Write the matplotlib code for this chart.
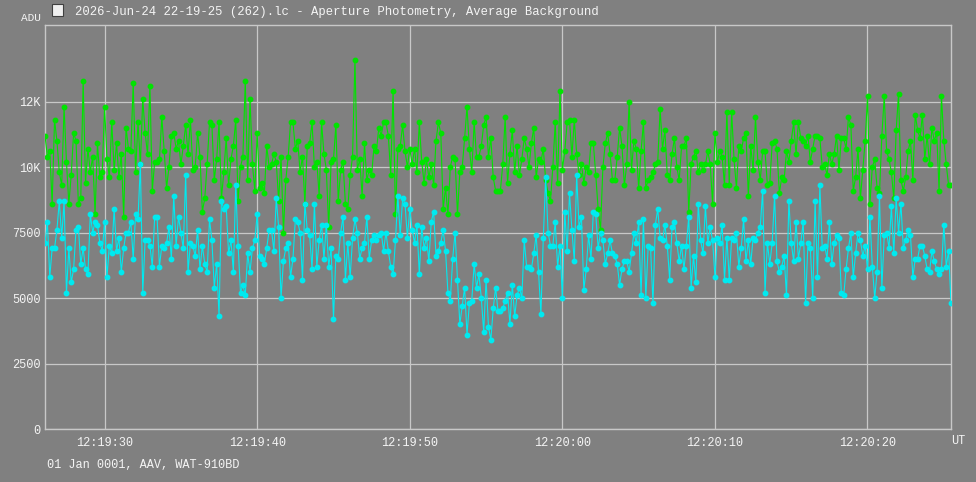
import numpy as np
import matplotlib
matplotlib.use('Agg')
import matplotlib.pyplot as plt
from matplotlib.ticker import FuncFormatter, FixedLocator
from matplotlib.patches import Rectangle

plt.rcParams['font.family'] = ['Liberation Mono', 'DejaVu Sans Mono']

# ADU values, one per frame
green = [
    11200, 10400, 10600, 8600, 11800, 11000, 9800, 9300, 12300, 10200, 8600, 9700, 11300, 11000, 8600, 8800,
    13300, 9400, 10700, 9800, 10400, 8200, 10900, 9600, 9800, 12300, 10300, 9600, 11700, 9900, 10900, 9600,
    10500, 8100, 11500, 10700, 10600, 13200, 9800, 11700, 10100, 12600, 11300, 10500, 13100, 9100, 10200,
    10200, 10300, 11900, 10600, 9200, 10000, 11200, 11300, 10700, 11000, 10100, 10800, 11600, 10500, 11800, 9900,
    10000, 11300, 10400, 8300, 8800, 10100, 11700, 11600, 9500, 10300, 11700, 8800, 9800, 11100, 9300, 10300,
    10800, 11800, 8700, 10000, 10400, 13300, 9500, 12600, 10100, 9100, 11300, 9200, 9400, 9000, 10800, 10000,
    10100, 10500, 10200, 8700, 10400, 7500, 9500, 10400, 11700, 11700, 10700, 11000, 9800, 10400, 8600, 10800,
    10900, 11700, 10000, 10200, 8900, 11700, 10500, 9900, 7700, 10200, 10300, 11600, 8700, 9900, 10200, 8600,
    8400, 9700, 10400, 14100, 9900, 10300, 8900, 10900, 9500, 9900, 9700, 10800, 10600, 11500, 11200, 11700,
    11700, 11200, 9700, 12900, 8200, 10700, 10800, 11600, 10600, 10000, 10700, 10100, 10700, 9800, 11700, 10200,
    9400, 10300, 9600, 10100, 9300, 11000, 11700, 11300, 8400, 9200, 8200, 10000, 10400, 10300, 8200, 9800,
    10000, 11100, 12300, 10700, 9800, 11700, 10400, 10400, 10800, 11600, 11900, 10400, 11100, 9600, 9100, 9100,
    9100, 10100, 11900, 9400, 10500, 11400, 9800, 10800, 9700, 10300, 11100, 10700, 10000, 10900, 11500, 9600,
    10300, 10200, 10700, 9500, 9000, 8700, 10000, 11700, 9400, 12900, 9900, 10600, 11700, 11800, 10400, 11800,
    10500, 9700, 10100, 9400, 10000, 9800, 10900, 10900, 9700, 8400, 7600, 10000, 10900, 11300, 10500, 9500,
    9500, 10400, 11500, 10800, 9300, 10100, 12500, 9900, 11000, 10700, 9200, 10600, 11700, 9200, 9500, 9600,
    9800, 10100, 10200, 12200, 10700, 11400, 9700, 9500, 10500, 11100, 10000, 9500, 10800, 10800, 11100, 8300,
    10100, 10400, 10600, 9800, 10100, 9900, 10100, 10600, 10100, 8600, 11300, 10200, 10600, 10400, 9300, 12100,
    9300, 12100, 10300, 9200, 10800, 10600, 11100, 11300, 8900, 10800, 9900, 11900, 10200, 9500, 10600, 10600,
    9300, 9400, 10900, 11000, 10700, 9000, 9600, 9500, 10600, 10200, 11000, 11700, 10500, 11700, 11100, 11000,
    10800, 11200, 10200, 10700, 11200, 11200, 11100, 10000, 10100, 9700, 10500, 10100, 10500, 11200, 9900, 11100,
    11100, 10700, 11900, 11600, 9100, 9600, 10700, 8800, 9900, 11000, 12700, 8600, 10000, 10300, 9200, 9000,
    11200, 12700, 10600, 10300, 9800, 8800, 11400, 12800, 9500, 9100, 9600, 10600, 11000, 9500, 12000, 11400,
    11100, 12000, 10300, 11200, 10100, 11500, 11000, 11300, 9100, 12700, 11000, 10100, 9300, 9300,
]
cyan = [
    7100, 7900, 5800, 6900, 6900, 7600, 8700, 7300, 8700, 5200, 6900, 5600, 6100, 7600, 7700, 6300,
    6900, 6100, 5900, 8200, 7500, 7900, 7800, 7100, 6800, 7900, 5800, 7000, 6700, 8400, 6800, 7300,
    6000, 6900, 7500, 7500, 7900, 6500, 8200, 8000, 10100, 5200, 7200, 7200, 7000, 6200, 8100,
    8100, 6200, 7000, 6900, 7100, 7700, 6500, 8900, 7000, 8100, 7500, 6900, 9700, 6000, 7100, 7000,
    6600, 7600, 6100, 7000, 6300, 6000, 8000, 7200, 5400, 6300, 4300, 8700, 8400, 8500, 6700, 7200,
    6000, 9300, 7000, 5200, 5500, 5100, 6700, 6000, 6900, 7200, 8200, 6600, 6500, 6300, 6900, 7600,
    7600, 6800, 8800, 7700, 5000, 6400, 6900, 7100, 5800, 6500, 8000, 7900, 7500, 5700, 8600, 7600,
    7400, 6100, 8600, 6200, 7200, 7800, 6500, 7800, 6200, 6900, 4200, 6600, 6500, 7500, 8100, 5700,
    7100, 5800, 7300, 8000, 7500, 6500, 6900, 7100, 8100, 6500, 7200, 7400, 7200, 7400, 7500, 6800,
    7500, 6800, 6200, 5900, 7200, 8900, 7400, 8800, 8600, 7300, 8400, 7600, 7100, 7800, 5900, 7700,
    6900, 7300, 6400, 7900, 8300, 6600, 6800, 7100, 7600, 6800, 5200, 4900, 6500, 7500, 5700, 4000,
    4700, 5400, 3600, 4800, 4900, 6300, 5400, 5900, 5000, 3700, 5700, 3900, 3400, 4600, 5400, 4500,
    4500, 4600, 4900, 5200, 4000, 5500, 4300, 5100, 5400, 5000, 7200, 6200, 6200, 6100, 6700, 7400,
    6000, 4400, 7300, 9600, 7500, 7000, 7000, 7900, 6200, 7000, 5000, 8300, 6800, 9000, 7600, 6400,
    9700, 7700, 8100, 5300, 6100, 7400, 6500, 8300, 8200, 6900, 7500, 7200, 6300, 6700, 7200, 6700,
    6600, 6300, 5500, 6100, 6400, 6400, 6000, 6700, 7500, 7100, 7900, 5100, 8000, 5000, 7000, 6900,
    4800, 7800, 8400, 7300, 7200, 7800, 7000, 5700, 7700, 7900, 7100, 6400, 7000, 6100, 7000, 8100,
    5400, 6600, 5600, 8600, 7200, 6700, 8500, 7100, 7700, 7200, 5800, 7300, 7100, 7800, 5700, 7300,
    5700, 7300, 7200, 7500, 6200, 6900, 8000, 6400, 7200, 6300, 7300, 7200, 7500, 7700, 9100, 5200,
    7100, 6300, 7100, 8900, 6400, 6000, 6200, 6600, 5100, 8700, 7100, 6400, 7900, 6500, 7100, 7900,
    4800, 7100, 6900, 5000, 8700, 5800, 9300, 6900, 7000, 6500, 7900, 6300, 7100, 7400, 7300, 5200,
    5100, 6100, 6900, 7500, 5800, 6700, 7500, 7200, 6600, 7000, 6100, 8100, 6200, 5000, 6000, 8900,
    5400, 7400, 7500, 6900, 8500, 6700, 8800, 7500, 8600, 6900, 7200, 7600, 7400, 5800, 6500, 6500,
    7000, 7000, 6600, 6100, 6000, 6800, 6400, 6100, 5900, 6100, 7800, 6200, 6800, 4800,
]

# seconds after 12:19:00 UT of first and last frame
first_sec = 26.06
last_sec = 85.5

ytick_values = [0, 2500, 5000, 7500, 10000, 12500]
ytick_labels = ['0', '2500', '5000', '7500', '10K', '12K']
xtick_seconds = [30, 40, 50, 60, 70, 80]

title = '2026-Jun-24 22-19-25 (262).lc - Aperture Photometry, Average Background'
footer = '01 Jan 0001, AAV, WAT-910BD'

bg = '#808080'
fg = '#f4f4f4'
gridc = '#c8c8c8'

times = np.linspace(first_sec, last_sec, len(green))


def ut_label(s, pos):
    total = int(round(12 * 3600 + 19 * 60 + s))
    return '%02d:%02d:%02d' % (total // 3600, (total // 60) % 60, total % 60)


fig = plt.figure(figsize=(9.76, 4.82), dpi=100, facecolor=bg)
W, H = 976.0, 482.0
ax = fig.add_axes([45 / W, 53 / H, 906 / W, 404 / H], facecolor=bg)

ax.plot(times, green, '-', color='#00e400', lw=0.8, marker='o', ms=3.2, mec='#00e400', zorder=3)
ax.plot(times, cyan, '-', color='#00eaf0', lw=0.8, marker='o', ms=3.2, mec='#00eaf0', zorder=4)

ax.set_xlim(first_sec, last_sec)
ax.set_ylim(0, 15420)
ax.yaxis.set_major_locator(FixedLocator(ytick_values))
ax.set_yticklabels(ytick_labels)
ax.xaxis.set_major_locator(FixedLocator(xtick_seconds))
ax.xaxis.set_major_formatter(FuncFormatter(ut_label))
ax.grid(True, color=gridc, lw=0.9, zorder=1)
ax.tick_params(length=0, colors=fg, labelsize=8.6, pad=6)
ax.tick_params(axis='y', pad=3)
for sp in ax.spines.values():
    sp.set_color(gridc)
    sp.set_linewidth(1.0)

fig.text(31 / W, 1 - 18 / H, 'ADU', color=fg, fontsize=8, ha='center', va='center')
fig.patches.append(Rectangle((52 / W, 1 - 16 / H), 11 / W, 12 / H, transform=fig.transFigure,
                             facecolor='#f0f0f0', edgecolor='#404040', lw=0.8))
fig.text(75 / W, 1 - 12 / H, title, color=fg, fontsize=8.8, ha='left', va='center')
fig.text(958 / W, 1 - 441 / H, 'UT', color=fg, fontsize=8.6, ha='center', va='center')
fig.text(47 / W, 1 - 465 / H, footer, color=fg, fontsize=8.6, ha='left', va='center')

fig.savefig('out.png', dpi=100, facecolor=bg)
